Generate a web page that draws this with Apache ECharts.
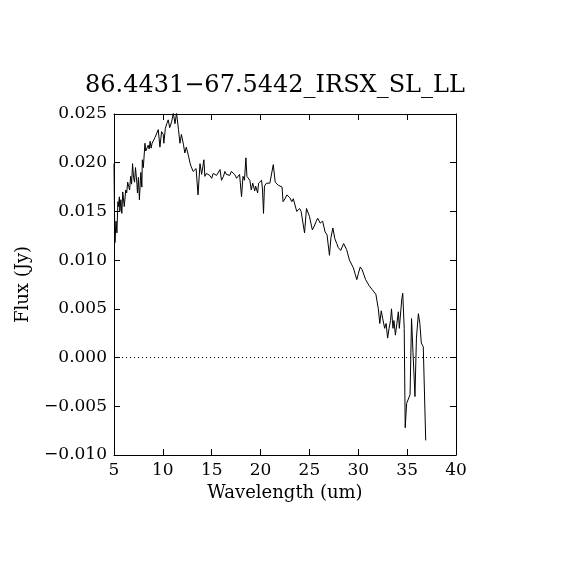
<!DOCTYPE html>
<html>
<head>
<meta charset="utf-8">
<script src="https://cdn.jsdelivr.net/npm/echarts@6/dist/echarts.min.js"></script>
<style>html,body{margin:0;padding:0;background:#fff;}#c{width:570px;height:570px;}</style>
</head>
<body>
<div id="c"></div>
<script>
const titleText = "86.4431\u221267.5442_IRSX_SL_LL";
const xLabel = "Wavelength (um)";
const yLabel = "Flux (Jy)";
const xTicks = [5, 10, 15, 20, 25, 30, 35, 40];
const yTicks = [-0.010, -0.005, 0.000, 0.005, 0.010, 0.015, 0.020, 0.025];

const wavelength = [
5.00,5.05,5.10,5.20,5.30,5.40,5.45,5.55,5.60,5.70,5.80,5.90,5.95,6.05,6.10,6.20,6.30,6.40,6.50,6.60,
6.70,6.80,6.90,7.00,7.10,7.20,7.25,7.35,7.40,7.50,7.60,7.70,7.75,7.85,7.90,8.00,8.17,8.25,8.40,8.50,
8.60,8.70,8.80,8.90,9.00,9.10,9.20,9.37,9.53,9.70,9.87,10.04,10.10,10.25,10.40,10.55,10.70,10.90,11.07,11.24,
11.40,11.60,11.75,11.90,12.10,12.25,12.40,12.60,12.80,12.90,13.10,13.25,13.40,13.60,13.80,13.97,14.20,14.30,14.45,14.60,
14.80,15.00,15.15,15.30,15.50,15.70,15.85,16.00,16.20,16.35,16.50,16.70,16.85,17.00,17.20,17.35,17.55,17.70,17.85,18.05,
18.20,18.35,18.50,18.60,18.75,18.90,19.05,19.20,19.40,19.50,19.70,19.80,20.10,20.20,20.30,20.40,20.60,20.80,20.95,21.15,
21.30,21.50,21.65,21.80,22.00,22.20,22.30,22.50,22.70,22.85,23.00,23.20,23.35,23.50,23.70,23.85,24.00,24.15,24.30,24.50,
24.70,24.90,25.00,25.15,25.30,25.50,25.70,25.85,26.10,26.35,26.60,26.80,27.05,27.20,27.40,27.60,27.80,27.95,28.20,28.50,
28.80,29.10,29.30,29.50,29.70,29.85,30.00,30.20,30.40,30.60,30.75,30.90,31.10,31.20,31.40,31.60,31.80,31.90,32.05,32.20,
32.35,32.50,32.70,32.85,33.00,33.15,33.30,33.40,33.55,33.65,33.80,33.95,34.10,34.20,34.30,34.45,34.55,34.70,34.80,34.95,
35.10,35.30,35.45,35.60,35.80,35.95,36.15,36.30,36.45,36.65,36.90
];
const flux = [
0.0199,0.0150,0.0118,0.0140,0.0128,0.0160,0.0155,0.0165,0.0150,0.0162,0.0148,0.0170,0.0172,0.0155,0.0153,0.0172,0.0169,0.0180,0.0176,0.0172,
0.0186,0.0178,0.0199,0.0185,0.0180,0.0195,0.0193,0.0178,0.0169,0.0185,0.0162,0.0182,0.0190,0.0175,0.0203,0.0195,0.0220,0.0212,0.0210,0.0218,
0.0214,0.0222,0.0215,0.0220,0.0222,0.0218,0.0226,0.0227,0.0234,0.0216,0.0232,0.0229,0.0220,0.0235,0.0240,0.0244,0.0236,0.0242,0.0251,0.0240,
0.0251,0.0234,0.0220,0.0229,0.0219,0.0210,0.0216,0.0208,0.0199,0.0196,0.0191,0.0190,0.0194,0.0167,0.0199,0.0188,0.0203,0.0186,0.0189,0.0190,
0.0187,0.0184,0.0189,0.0191,0.0187,0.0188,0.0193,0.0182,0.0186,0.0191,0.0188,0.0189,0.0187,0.0191,0.0189,0.0188,0.0184,0.0186,0.0188,0.0165,
0.0186,0.0182,0.0205,0.0186,0.0184,0.0182,0.0172,0.0179,0.0171,0.0176,0.0169,0.0179,0.0182,0.0172,0.0148,0.0176,0.0179,0.0177,0.0179,0.0177,
0.0198,0.0180,0.0178,0.0177,0.0176,0.0175,0.0160,0.0163,0.0167,0.0165,0.0164,0.0160,0.0163,0.0162,0.0150,0.0152,0.0153,0.0150,0.0148,0.0128,
0.0153,0.0155,0.0145,0.0138,0.0131,0.0135,0.0140,0.0143,0.0138,0.0140,0.0129,0.0126,0.0105,0.0123,0.0133,0.0122,0.0117,0.0113,0.0110,0.0117,
0.0111,0.0100,0.0098,0.0092,0.0085,0.0080,0.0086,0.0093,0.0090,0.0088,0.0080,0.0082,0.0074,0.0073,0.0070,0.0068,0.0065,0.0063,0.0050,0.0035,
0.0048,0.0040,0.0030,0.0035,0.0020,0.0030,0.0038,0.0050,0.0030,0.0038,0.0023,0.0035,0.0047,0.0030,0.0032,0.0060,0.0066,0.0030,-0.0072,-0.0047,
-0.0045,-0.0038,0.0040,0.0005,-0.0040,0.0020,0.0045,0.0035,0.0015,0.0011,-0.0085
];

const data = wavelength.map((w, i) => [w, flux[i]]);
const fmtY = v => v.toFixed(3).replace('-', '\u2212');
const FONT = '"DejaVu Serif", "Liberation Serif", serif';

const chart = echarts.init(document.getElementById('c'), null, {renderer: 'canvas'});
const axisCommon = {
  axisLine: {show: true, onZero: false, lineStyle: {color: '#000', width: 1}},
  axisTick: {show: true, inside: true, length: 6, lineStyle: {color: '#000', width: 1}},
  splitLine: {show: false}
};
chart.setOption({
  animation: false,
  backgroundColor: '#fff',
  title: {
    text: titleText, left: 80, top: 69,
    textStyle: {fontFamily: FONT, fontSize: 24, fontWeight: 'normal', color: '#000'}
  },
  grid: {left: 114, right: 114, top: 114, bottom: 115, containLabel: false},
  xAxis: [
    Object.assign({type: 'value', min: xTicks[0], max: xTicks[xTicks.length-1], interval: 5, position: 'bottom',
      name: xLabel, nameLocation: 'middle', nameGap: 28,
      nameTextStyle: {fontFamily: FONT, fontSize: 18, color: '#000'},
      axisLabel: {fontFamily: FONT, fontSize: 17, color: '#000', margin: 7}}, axisCommon),
    Object.assign({type: 'value', min: xTicks[0], max: xTicks[xTicks.length-1], interval: 5, position: 'top',
      axisLabel: {show: false}}, axisCommon)
  ],
  yAxis: [
    Object.assign({type: 'value', min: yTicks[0], max: yTicks[yTicks.length-1], interval: 0.005, position: 'left',
      name: yLabel, nameLocation: 'middle', nameGap: 82, nameRotate: 90,
      nameTextStyle: {fontFamily: FONT, fontSize: 18, color: '#000'},
      axisLabel: {fontFamily: FONT, fontSize: 17, color: '#000', margin: 7, formatter: fmtY}}, axisCommon),
    Object.assign({type: 'value', min: yTicks[0], max: yTicks[yTicks.length-1], interval: 0.005, position: 'right',
      axisLabel: {show: false}}, axisCommon)
  ],
  series: [{
    type: 'line', data: data, xAxisIndex: 0, yAxisIndex: 0,
    showSymbol: false, symbol: 'none', clip: true,
    lineStyle: {color: '#000', width: 1},
    markLine: {
      silent: true, symbol: 'none', label: {show: false},
      lineStyle: {color: '#000', width: 1, type: [1, 3]},
      data: [{yAxis: 0}]
    }
  }]
});
</script>
</body>
</html>
